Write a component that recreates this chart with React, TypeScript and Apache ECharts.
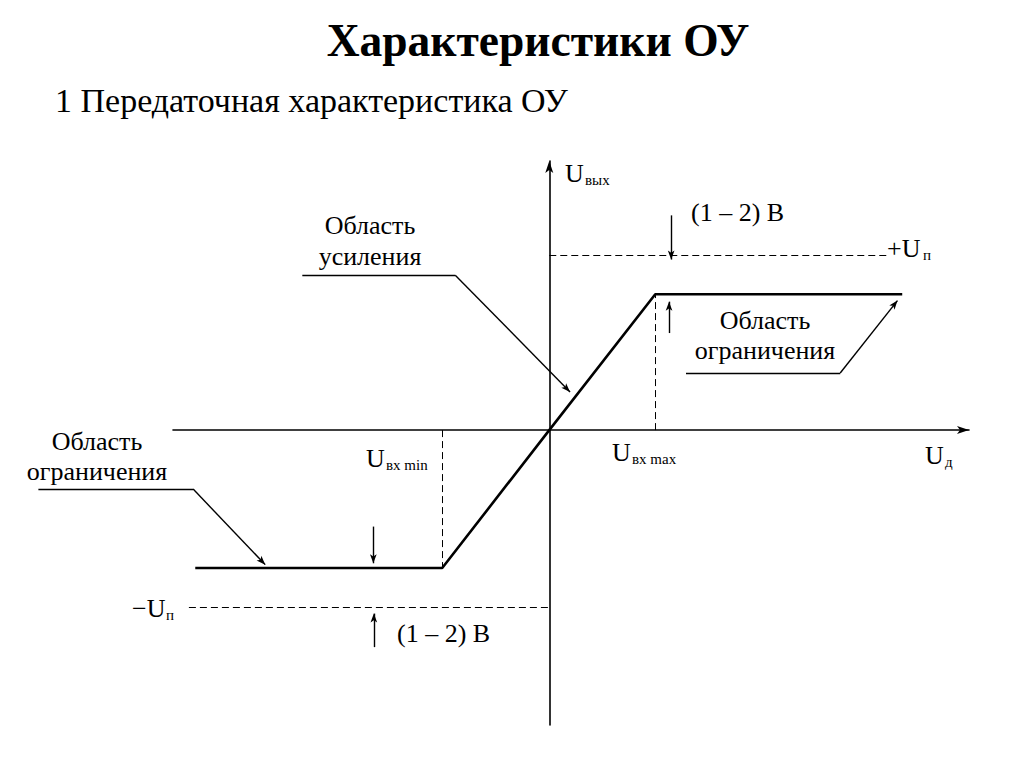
import React, { useEffect, useRef } from 'react';
import * as echarts from 'echarts';

// Transfer characteristic of an op-amp (normalised units)
const transferX = [-3.34, -1.01, 0, 1, 3.33];
const transferY = [-1.015, -1.015, 0, 1, 1];
// Supply levels
const supplyPlus = 1.29;
const supplyMinus = -1.3;
const supplyPlusDashX = [0, 3.19];
const supplyMinusDashX = [-3.4, 0];
// Input limits Uвх min / Uвх max and the corresponding saturation
const inputLimitX = [-1.01, 1];
const saturationY = [-1.015, 1];
// Leader lines of the region labels (horizontal part, then arrow part)
const gainLeader = [[-2.33, 1.14], [-0.887, 1.14], [0.196, 0.281]];
const rightLimitLeader = [[1.29, 0.42], [2.745, 0.42], [3.285, 0.953]];
const leftLimitLeader = [[-4.82, -0.434], [-3.36, -0.434], [-2.68, -0.99]];
// "(1 – 2) В" margin arrows: [from, to]
const marginArrows = [
  [[1.15, 1.58], [1.15, 1.255]],
  [[1.13, 0.714], [1.13, 0.945]],
  [[-1.66, -0.71], [-1.66, -0.98]],
  [[-1.655, -1.597], [-1.655, -1.35]],
];
// Axis ranges
const xRange = [-3.55, 3.96];
const yRange = [-2.17, 1.98];

// Texts
const titleText = 'Характеристики ОУ';
const subtitleText = '1 Передаточная характеристика ОУ';
const gainLabel = 'Область\nусиления';
const limitLabel = 'Область\nограничения';
const marginLabel = '(1 – 2) В';

const FONT = "'Liberation Serif', 'Times New Roman', serif";

export default function App() {
  const ref = useRef<HTMLDivElement>(null);
  useEffect(() => {
    if (!ref.current) return;
    const chart = echarts.init(ref.current, null, { renderer: 'svg' });

    const txt = (text: string, x: number, y: number, size: number, extra: any = {}) => ({
      type: 'text',
      x,
      y,
      silent: true,
      style: {
        text,
        fontSize: size,
        fontFamily: FONT,
        fill: '#000',
        align: 'left',
        verticalAlign: 'middle',
        ...extra,
      },
    });

    const axisCommon = {
      type: 'value',
      axisTick: { show: false },
      axisLabel: { show: false },
      splitLine: { show: false },
    };

    const option: any = {
      animation: false,
      backgroundColor: '#fff',
      grid: { left: 173, top: 161, width: 796, height: 564, containLabel: false },
      xAxis: {
        ...axisCommon,
        min: xRange[0],
        max: xRange[1],
        axisLine: {
          onZero: true,
          symbol: ['none', 'arrow'],
          symbolSize: [6, 12],
          lineStyle: { color: '#000', width: 1.6 },
        },
      },
      yAxis: {
        ...axisCommon,
        min: yRange[0],
        max: yRange[1],
        axisLine: {
          onZero: true,
          symbol: ['none', 'arrow'],
          symbolSize: [6, 12],
          lineStyle: { color: '#000', width: 1.6 },
        },
      },
      series: [
        {
          type: 'line',
          data: transferX.map((x, i) => [x, transferY[i]]),
          symbol: 'none',
          lineStyle: { color: '#000', width: 2.6 },
          z: 5,
        },
        {
          type: 'lines',
          coordinateSystem: 'cartesian2d',
          clip: false,
          symbol: 'none',
          lineStyle: { color: '#000', width: 1, type: [7, 4], opacity: 1 },
          data: [
            { coords: [[supplyPlusDashX[0], supplyPlus], [supplyPlusDashX[1], supplyPlus]] },
            { coords: [[supplyMinusDashX[0], supplyMinus], [supplyMinusDashX[1], supplyMinus]] },
            { coords: [[inputLimitX[1], 0], [inputLimitX[1], saturationY[1]]] },
            { coords: [[inputLimitX[0], 0], [inputLimitX[0], saturationY[0]]] },
          ],
        },
        {
          type: 'lines',
          coordinateSystem: 'cartesian2d',
          clip: false,
          symbol: 'none',
          lineStyle: { color: '#000', width: 1.4, opacity: 1 },
          data: [gainLeader, rightLimitLeader, leftLimitLeader].map((l) => ({ coords: [l[0], l[1]] })),
        },
        {
          type: 'lines',
          coordinateSystem: 'cartesian2d',
          clip: false,
          symbol: ['none', 'arrow'],
          symbolSize: [[5, 9], [5, 9]],
          lineStyle: { color: '#000', width: 1.4, opacity: 1 },
          data: [
            ...[gainLeader, rightLimitLeader, leftLimitLeader].map((l) => ({ coords: [l[1], l[2]] })),
            ...marginArrows.map((a) => ({ coords: a })),
          ],
        },
      ],
      graphic: [
        txt(titleText, 538, 40, 45.5, { fontWeight: 'bold', align: 'center' }),
        txt(subtitleText, 55, 100, 34),
        // Uвых
        txt('U', 565, 173, 26),
        txt('вых', 585, 180, 15),
        // +Uп
        txt('+U', 887, 248, 26),
        txt('п', 923, 255, 15),
        // −Uп
        txt('−U', 132, 608, 26),
        txt('п', 166, 615, 15),
        // Uвх min
        txt('U', 366, 458, 26),
        txt('вх min', 386, 465, 15),
        // Uвх max
        txt('U', 612, 452, 26),
        txt('вх max', 632, 459, 15),
        // Uд
        txt('U', 925, 455, 26),
        txt('д', 945, 462, 15),
        // margins
        txt(marginLabel, 691, 212, 26),
        txt(marginLabel, 397, 633, 26),
        // region labels
        txt(gainLabel, 370, 241, 26, { align: 'center', lineHeight: 31 }),
        txt(limitLabel, 765, 335, 26, { align: 'center', lineHeight: 30 }),
        txt(limitLabel, 97, 456, 26, { align: 'center', lineHeight: 30 }),
      ],
    };
    chart.setOption(option);
    return () => chart.dispose();
  }, []);
  return (
    <div
      ref={ref}
      style={{ position: 'fixed', left: 0, top: 0, width: 1024, height: 767, background: '#fff' }}
    />
  );
}
